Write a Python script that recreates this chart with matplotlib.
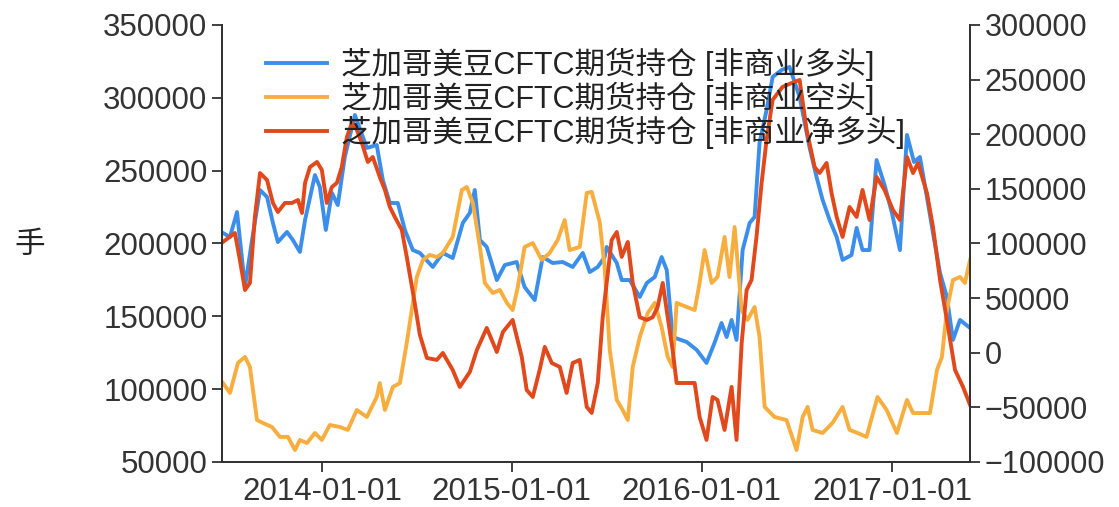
import matplotlib
matplotlib.use('Agg')
from matplotlib import pyplot as plt
import matplotlib.dates as mdates
import pandas as pd

plt.rcParams['font.family'] = ['Liberation Sans', 'Noto Sans CJK SC', 'DejaVu Sans']

# series (time as decimal year)
long_t = [2013.479, 2013.516, 2013.553, 2013.595, 2013.632, 2013.674, 2013.711, 2013.742, 2013.768, 2013.816,
          2013.847, 2013.884, 2013.911, 2013.963, 2013.989, 2014.021, 2014.053, 2014.084, 2014.121, 2014.174,
          2014.237, 2014.289, 2014.321, 2014.358, 2014.400, 2014.437, 2014.479, 2014.516, 2014.584, 2014.637,
          2014.689, 2014.742, 2014.779, 2014.805, 2014.832, 2014.868, 2014.921, 2014.963, 2015.026, 2015.068,
          2015.121, 2015.163, 2015.216, 2015.268, 2015.321, 2015.374, 2015.411, 2015.453, 2015.489, 2015.500,
          2015.553, 2015.579, 2015.621, 2015.674, 2015.711, 2015.753, 2015.789, 2015.816, 2015.847, 2015.921,
          2015.974, 2016.026, 2016.068, 2016.105, 2016.132, 2016.158, 2016.184, 2016.216, 2016.253, 2016.279,
          2016.305, 2016.342, 2016.374, 2016.421, 2016.463, 2016.516, 2016.568, 2016.605, 2016.637, 2016.674,
          2016.711, 2016.742, 2016.789, 2016.816, 2016.847, 2016.884, 2016.921, 2016.963, 2017.000, 2017.042,
          2017.079, 2017.116, 2017.147, 2017.184, 2017.216, 2017.253, 2017.289, 2017.321, 2017.358, 2017.411]
long_v = [207200, 204500, 221600, 170100, 202400, 236700, 231900, 214100, 201000, 207900,
          202400, 194200, 216100, 247000, 238800, 209300, 234700, 226400, 259400, 288200,
          265600, 267600, 243600, 227800, 227800, 209300, 195500, 193500, 183900, 193500,
          190000, 214100, 221000, 236700, 202400, 197600, 174900, 185200, 187300, 170100,
          161200, 190700, 186600, 187300, 183900, 193500, 180400, 183900, 190700, 197600,
          186600, 174900, 174900, 163300, 172900, 177000, 190700, 181800, 135800, 132400,
          126900, 118000, 131700, 145400, 135800, 147500, 133800, 195500, 214100, 218200,
          269000, 291600, 314300, 319100, 321200, 300600, 266200, 245700, 229900, 216100,
          204500, 188700, 192100, 210700, 195500, 195500, 257300, 240200, 220900, 195500,
          274500, 255900, 259400, 231900, 207200, 179700, 163300, 133800, 147500, 142000]

short_t = [2013.479, 2013.516, 2013.558, 2013.595, 2013.621, 2013.658, 2013.689, 2013.737, 2013.779, 2013.821,
           2013.858, 2013.884, 2013.921, 2013.963, 2014.000, 2014.042, 2014.095, 2014.137, 2014.184, 2014.237,
           2014.289, 2014.305, 2014.332, 2014.374, 2014.411, 2014.447, 2014.479, 2014.500, 2014.532, 2014.568,
           2014.605, 2014.637, 2014.689, 2014.737, 2014.763, 2014.795, 2014.832, 2014.858, 2014.900, 2014.937,
           2014.974, 2015.005, 2015.032, 2015.068, 2015.111, 2015.158, 2015.200, 2015.242, 2015.279, 2015.305,
           2015.358, 2015.395, 2015.421, 2015.463, 2015.489, 2015.516, 2015.553, 2015.584, 2015.611, 2015.637,
           2015.674, 2015.716, 2015.753, 2015.789, 2015.821, 2015.847, 2015.868, 2015.921, 2015.963, 2015.989,
           2016.016, 2016.053, 2016.084, 2016.121, 2016.147, 2016.174, 2016.211, 2016.242, 2016.279, 2016.305,
           2016.332, 2016.384, 2016.447, 2016.500, 2016.532, 2016.558, 2016.584, 2016.637, 2016.689, 2016.742,
           2016.779, 2016.821, 2016.868, 2016.926, 2016.974, 2017.026, 2017.079, 2017.111, 2017.163, 2017.200,
           2017.237, 2017.263, 2017.289, 2017.321, 2017.358, 2017.384, 2017.411]
short_v = [104200, 97400, 118000, 122100, 115200, 78800, 76800, 74000, 67200, 67200,
           58200, 65100, 63000, 69900, 65100, 75400, 74000, 72000, 85700, 80900,
           94600, 104200, 85700, 101500, 104200, 131700, 159200, 177000, 188700, 192100,
           190700, 193500, 204500, 236700, 238800, 227800, 197600, 172900, 166000, 168100,
           159200, 154300, 170100, 197600, 200300, 188700, 193500, 202400, 216100, 195500,
           197600, 234700, 235400, 214800, 183900, 126900, 92600, 85700, 78800, 115200,
           135800, 152300, 159200, 142700, 122100, 115200, 159200, 156400, 154300, 172900,
           195500, 172900, 177000, 204500, 177000, 211300, 154300, 147500, 156400, 135800,
           87800, 80900, 78800, 58200, 80900, 87800, 72000, 69900, 76800, 87800,
           72000, 69900, 67200, 94600, 85700, 69900, 92600, 83600, 83600, 83600,
           113200, 122100, 154300, 174900, 177000, 172900, 188700]

net_t = [2013.479, 2013.542, 2013.568, 2013.595, 2013.621, 2013.647, 2013.674, 2013.711, 2013.742, 2013.768,
         2013.805, 2013.842, 2013.874, 2013.895, 2013.911, 2013.937, 2013.974, 2014.000, 2014.026, 2014.053,
         2014.079, 2014.105, 2014.132, 2014.158, 2014.184, 2014.211, 2014.242, 2014.268, 2014.305, 2014.332,
         2014.358, 2014.384, 2014.421, 2014.447, 2014.489, 2014.516, 2014.553, 2014.605, 2014.637, 2014.689,
         2014.726, 2014.779, 2014.816, 2014.868, 2014.921, 2014.953, 2015.005, 2015.053, 2015.079, 2015.111,
         2015.147, 2015.174, 2015.211, 2015.253, 2015.289, 2015.321, 2015.358, 2015.395, 2015.421, 2015.453,
         2015.479, 2015.526, 2015.553, 2015.579, 2015.611, 2015.637, 2015.674, 2015.711, 2015.742, 2015.768,
         2015.795, 2015.821, 2015.847, 2015.868, 2015.921, 2015.963, 2015.989, 2016.026, 2016.058, 2016.084,
         2016.121, 2016.158, 2016.184, 2016.211, 2016.237, 2016.263, 2016.289, 2016.316, 2016.342, 2016.374,
         2016.426, 2016.474, 2016.516, 2016.553, 2016.595, 2016.621, 2016.658, 2016.684, 2016.711, 2016.742,
         2016.779, 2016.816, 2016.847, 2016.884, 2016.921, 2016.963, 2017.005, 2017.042, 2017.079, 2017.111,
         2017.137, 2017.184, 2017.216, 2017.253, 2017.289, 2017.332, 2017.374, 2017.411]
net_v = [101400, 109600, 84900, 57400, 63900, 124300, 164500, 158100, 137100, 128800,
         137100, 137100, 139800, 127900, 155400, 170000, 174600, 167300, 137100, 151700,
         155400, 170000, 197500, 210300, 203900, 192000, 174600, 179200, 160900, 149000,
         133400, 124300, 112400, 87700, 45500, 16300, -4800, -6600, -200, -15800,
         -31300, -17600, 2500, 22700, 700, 19000, 30000, -3900, -34100, -40500,
         -15800, 5300, -9400, -13000, -36800, -9400, -6600, -49600, -55100, -27700,
         32500, 103200, 110500, 87700, 101400, 63900, 32500, 30000, 32500, 41900,
         63900, 32500, 2500, -27700, -27700, -27700, -58800, -79800, -40500, -43200,
         -70700, -31300, -79800, 8900, 57400, 66600, 106000, 155400, 194700, 231400,
         243300, 246900, 249700, 203900, 170000, 164500, 173700, 146200, 124300, 106000,
         133400, 124300, 149000, 121500, 160900, 149000, 130700, 121500, 179200, 164500,
         173700, 146200, 115100, 66600, 30000, -15800, -31300, -47800]

labels = ['芝加哥美豆CFTC期货持仓 [非商业多头]',
          '芝加哥美豆CFTC期货持仓 [非商业空头]',
          '芝加哥美豆CFTC期货持仓 [非商业净多头]']
xticks = ['2014-01-01', '2015-01-01', '2016-01-01', '2017-01-01']


def to_date(t):
    s = pd.Series(t)
    yr = s.astype(int)
    start = pd.to_datetime(yr.astype(str) + '-01-01')
    return start + pd.to_timedelta((s - yr) * 365.25, unit='D')


fig = plt.figure(figsize=(11.19, 5.07), dpi=100)
ax = fig.add_axes([0.1984, 0.0888, 0.6685, 0.8619])
ax2 = ax.twinx()

l1, = ax.plot(to_date(long_t), long_v, color='#3C8EEB', lw=2.8)
l2, = ax.plot(to_date(short_t), short_v, color='#F8AE3F', lw=2.8)
l3, = ax2.plot(to_date(net_t), net_v, color='#E1481B', lw=2.8)

ax.set_ylim(50000, 350000)
ax.set_yticks(range(50000, 350001, 50000))
ax2.set_ylim(-100000, 300000)
ax2.set_yticks(range(-100000, 300001, 50000))
ax.set_xlim(to_date([2013.474])[0], to_date([2017.411])[0])
ax.set_xticks(pd.to_datetime(xticks))
ax.xaxis.set_major_formatter(mdates.DateFormatter('%Y-%m-%d'))

for a in (ax, ax2):
    a.spines['top'].set_visible(False)
    a.tick_params(labelsize=22.5, length=7, width=1.3, colors='#333333', labelcolor='#333333')
    for s in a.spines.values():
        s.set_linewidth(1.4)
        s.set_color('#333333')
ax2.tick_params(labelsize=22)

fig.text(0.027, 0.517, '手', fontsize=22, ha='center', va='center', color='#222222',
         family=['Noto Sans CJK SC', 'DejaVu Sans'])

leg = ax2.legend([l1, l2, l3], labels, loc='upper left', bbox_to_anchor=(0.03, 0.997),
                 frameon=False, fontsize=22, handlelength=2.0, handletextpad=0.45,
                 labelspacing=0.02, borderaxespad=0.3)
for t in leg.get_texts():
    t.set_color('#222222')

fig.savefig('out.png', dpi=100)
